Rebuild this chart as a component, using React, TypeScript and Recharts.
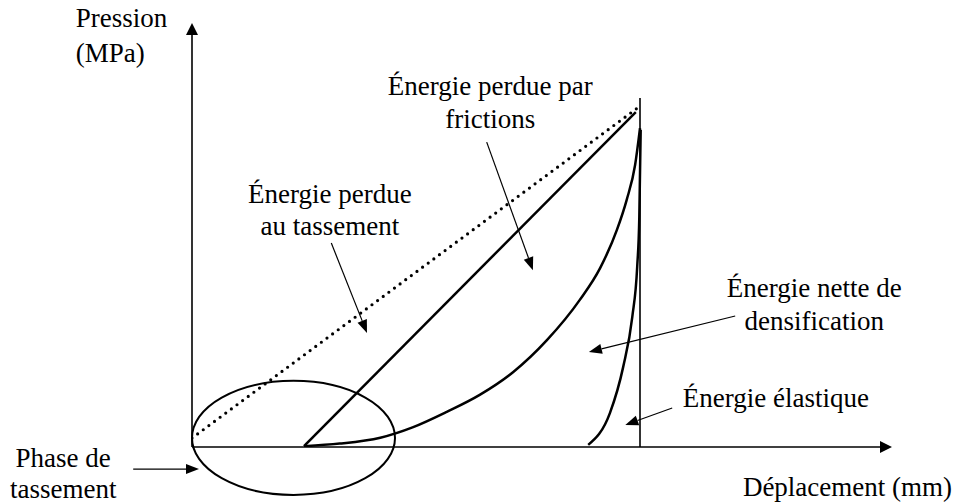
import { LineChart, Line, XAxis, YAxis, ReferenceLine, ReferenceArea, ReferenceDot } from "recharts"

// schematic units: displacement 0-100, pressure 0-100
const settlingLine = [
  { x: 0, y: 2.1 },
  { x: 64.0, y: 80.4 },
]
const frictionLine = [
  { x: 16.0, y: 0.2 },
  { x: 63.4, y: 79.0 },
]
const densificationCurve = [
  { x: 16.0, y: 0.2 },
  { x: 21.1, y: 0.8 },
  { x: 26.9, y: 2.2 },
  { x: 31.6, y: 4.7 },
  { x: 36.4, y: 8.3 },
  { x: 41.1, y: 12.3 },
  { x: 45.9, y: 17.7 },
  { x: 50.7, y: 25.2 },
  { x: 55.4, y: 34.7 },
  { x: 58.3, y: 42.2 },
  { x: 60.7, y: 51.2 },
  { x: 62.1, y: 58.3 },
  { x: 63.3, y: 66.5 },
  { x: 64.0, y: 75.2 },
]
const elasticCurve = [
  { x: 56.6, y: 0.5 },
  { x: 59.7, y: 8.0 },
  { x: 61.6, y: 18.9 },
  { x: 62.9, y: 30.7 },
  { x: 63.6, y: 42.5 },
  { x: 63.9, y: 54.2 },
  { x: 64.1, y: 74.8 },
]
const unloadLine = [
  { x: 64.0, y: -0.7 },
  { x: 64.0, y: 82.3 },
]

// axis arrows
const axes = [
  { from: { x: 0, y: 0 }, to: { x: 0, y: 100 } },
  { from: { x: 0, y: 0 }, to: { x: 100, y: 0 } },
]

// annotation pointers
const pointers = [
  { from: { x: 19.9, y: 48.1 }, to: { x: 25.0, y: 26.9 } },
  { from: { x: 42.1, y: 71.9 }, to: { x: 48.7, y: 41.7 } },
  { from: { x: 77.6, y: 30.9 }, to: { x: 56.7, y: 22.4 } },
  { from: { x: 68.6, y: 9.2 }, to: { x: 61.9, y: 5.2 } },
  { from: { x: -8.4, y: -5.2 }, to: { x: 1.0, y: -5.2 } },
]

const labels = [
  { text: "Pression", x: -16.6, y: 99.1, anchor: "start" },
  { text: "(MPa)", x: -16.6, y: 90.8, anchor: "start" },
  { text: "Énergie perdue par", x: 42.6, y: 83.0, anchor: "middle" },
  { text: "frictions", x: 42.6, y: 75.2, anchor: "middle" },
  { text: "Énergie perdue", x: 19.7, y: 57.5, anchor: "middle" },
  { text: "au tassement", x: 19.7, y: 50.0, anchor: "middle" },
  { text: "Énergie nette de", x: 88.9, y: 35.4, anchor: "middle" },
  { text: "densification", x: 88.9, y: 27.6, anchor: "middle" },
  { text: "Énergie élastique", x: 83.4, y: 9.4, anchor: "middle" },
  { text: "Phase de", x: -18.4, y: -4.7, anchor: "middle" },
  { text: "tassement", x: -18.4, y: -12.1, anchor: "middle" },
  { text: "Déplacement (mm)", x: 78.7, y: -11.6, anchor: "start" },
]

// settling phase ellipse bounds
const settlingZone = { x1: 0, x2: 29.0, y1: -11.3, y2: 15.6 }

const FONT = "'Liberation Serif', 'Times New Roman', serif"

function arrowShape(headLen: number, headHalf: number, width: number) {
  return (props: any) => {
    const { x1, y1, x2, y2 } = props
    const dx = x2 - x1
    const dy = y2 - y1
    const len = Math.sqrt(dx * dx + dy * dy) || 1
    const ux = dx / len
    const uy = dy / len
    const bx = x2 - ux * headLen
    const by = y2 - uy * headLen
    const nx = -uy * headHalf
    const ny = ux * headHalf
    return (
      <g>
        <line x1={x1} y1={y1} x2={bx} y2={by} stroke="#000" strokeWidth={width} />
        <polygon points={`${x2},${y2} ${bx + nx},${by + ny} ${bx - nx},${by - ny}`} fill="#000" />
      </g>
    )
  }
}

function ellipseShape(props: any) {
  const { x, y, width, height } = props
  return (
    <ellipse
      cx={x + width / 2}
      cy={y + height / 2}
      rx={Math.abs(width) / 2}
      ry={Math.abs(height) / 2}
      fill="none"
      stroke="#000"
      strokeWidth={2}
    />
  )
}

function textShape(text: string, anchor: string) {
  return (props: any) => (
    <text
      x={props.cx}
      y={props.cy}
      textAnchor={anchor}
      style={{ fontFamily: FONT }}
      fontSize={27}
      fill="#000"
    >
      {text}
    </text>
  )
}

export default function App() {
  return (
    <div style={{ position: "absolute", left: 0, top: 0, width: 958, height: 504, background: "#fff" }}>
      <LineChart width={958} height={504} margin={{ top: 23, right: 66, bottom: 57, left: 192 }}>
        <XAxis type="number" dataKey="x" domain={[0, 100]} hide allowDataOverflow />
        <YAxis type="number" dataKey="y" domain={[0, 100]} hide allowDataOverflow />

        {axes.map((a, i) => (
          <ReferenceLine
            key={`axis-${i}`}
            segment={[a.from, a.to]}
            ifOverflow="visible"
            shape={arrowShape(12, 6, 1.6)}
          />
        ))}

        <ReferenceArea
          x1={settlingZone.x1}
          x2={settlingZone.x2}
          y1={settlingZone.y1}
          y2={settlingZone.y2}
          ifOverflow="visible"
          shape={ellipseShape}
        />

        <Line
          data={settlingLine}
          dataKey="y"
          type="linear"
          stroke="#000"
          strokeWidth={3.2}
          strokeDasharray="0 7"
          strokeLinecap="round"
          dot={false}
          isAnimationActive={false}
        />
        <Line data={frictionLine} dataKey="y" type="linear" stroke="#000" strokeWidth={2.5} dot={false} isAnimationActive={false} />
        <Line data={densificationCurve} dataKey="y" type="monotone" stroke="#000" strokeWidth={2.5} dot={false} isAnimationActive={false} />
        <Line data={elasticCurve} dataKey="y" type="monotone" stroke="#000" strokeWidth={2.5} dot={false} isAnimationActive={false} />
        <Line data={unloadLine} dataKey="y" type="linear" stroke="#000" strokeWidth={1.6} dot={false} isAnimationActive={false} />

        {pointers.map((p, i) => (
          <ReferenceLine
            key={`ptr-${i}`}
            segment={[p.from, p.to]}
            ifOverflow="visible"
            shape={arrowShape(13, 5, 1.2)}
          />
        ))}

        {labels.map((l, i) => (
          <ReferenceDot
            key={`lbl-${i}`}
            x={l.x}
            y={l.y}
            r={0}
            ifOverflow="visible"
            shape={textShape(l.text, l.anchor)}
          />
        ))}
      </LineChart>
    </div>
  )
}
